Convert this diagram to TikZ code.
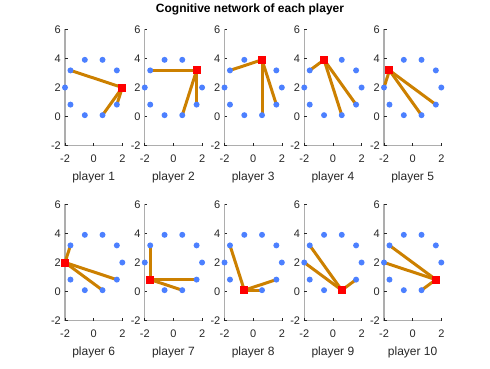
\documentclass[tikz,border=0pt]{standalone}
\usepackage{fontspec}
\setmainfont{Liberation Sans}
\definecolor{dotblue}{rgb}{0.3,0.5,1}
\definecolor{edgeor}{rgb}{0.8,0.5,0}
\definecolor{axgray}{rgb}{0.68,0.68,0.68}
\definecolor{tickc}{rgb}{0.15,0.15,0.15}
\begin{document}
\begin{tikzpicture}[x=1pt,y=1pt,
  axline/.style={draw=axgray,line width=1.4pt},
  tickl/.style={draw=tickc,line width=0.6pt},
  ylab/.style={anchor=east,inner sep=0pt,xshift=-4pt,text=tickc,font=\fontsize{11}{11}\selectfont},
  xlab/.style={anchor=north,inner sep=0pt,yshift=-9pt,text=tickc,font=\fontsize{11}{11}\selectfont},
  plab/.style={anchor=center,inner sep=0pt,yshift=-32pt,text=tickc,font=\fontsize{12}{12}\selectfont},
  edgeline/.style={draw=edgeor,line width=3pt},
  dot/.style={circle,fill=dotblue,minimum size=6pt,inner sep=0pt},
  redsq/.style={rectangle,fill=red,minimum size=8pt,inner sep=0pt}]
\useasboundingbox (0,0) rectangle (490,368);
\node[font=\bfseries\fontsize{12}{12}\selectfont] (title) at (250,359) {Cognitive network of each player};
\foreach \i/\r/\a/\b/\c in {1/0/4/8/9,2/1/4/8/9,3/2/4/8/9,4/3/4/8/9,5/4/5/8/9,6/5/4/8/9,7/6/4/8/9,8/7/4/8/9,9/8/4/5/9,10/9/4/5/8}{
  \pgfmathtruncatemacro\col{mod(\i-1,5)}
  \pgfmathtruncatemacro\row{(\i-1)/5}
  \pgfmathsetmacro\ox{65+79.75*\col+2*14.33}
  \pgfmathsetmacro\oy{222.3-175*\row+2*14.55}
  \begin{scope}[shift={(\ox pt,\oy pt)},x=14.33pt,y=14.55pt]
    \draw[axline] (-2,6) -- (-2,-2) -- (2,-2);
    \foreach \t in {-2,0,2,4,6}{
      \draw[tickl] (-2,\t) -- ++(2.5pt,0);
      \node[ylab] at (-2,\t) {\t};
    }
    \foreach \t in {-2,0,2}{
      \draw[tickl] (\t,-2) -- ++(0,2.5pt);
      \node[xlab] at (\t,-2) {\t};
    }
    \node[plab] (lab\i) at (0,-2) {player \i};
    \foreach \k in {0,...,9}{
      \coordinate (c\i-\k) at ({2*cos(36*\k)},{2+2*sin(36*\k)});
    }
    \foreach \k in {\a,\b,\c}{
      \draw[edgeline] (c\i-\r) -- (c\i-\k);
    }
    \foreach \k in {0,...,9}{
      \node[dot] (d\i-\k) at (c\i-\k) {};
    }
    \node[redsq] (r\i) at (c\i-\r) {};
  \end{scope}
}
\end{tikzpicture}
\end{document}
